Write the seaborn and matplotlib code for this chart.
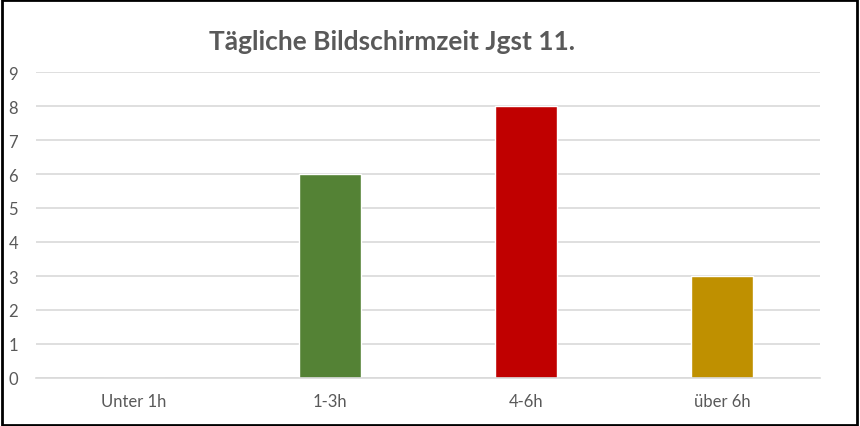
import matplotlib
matplotlib.use("Agg")
import matplotlib.pyplot as plt
import seaborn as sns
import pandas as pd
from matplotlib.patches import Rectangle

categories = ["Unter 1h", "1-3h", "4-6h", "über 6h"]
values = [0, 6, 8, 3]
colors = ["#4472C4", "#548235", "#C00000", "#BF9000"]
title = "Tägliche Bildschirmzeit Jgst 11."

sns.set_theme(style="white")
plt.rcParams["font.family"] = ["Lato", "DejaVu Sans"]

df = pd.DataFrame({"cat": categories, "val": values})

fig = plt.figure(figsize=(8.6, 4.27), dpi=100)
ax = fig.add_axes([36/860, 1-379/427, (820-36)/860, (379-73)/427])
sns.barplot(data=df, x="cat", y="val", hue="cat", palette=colors, legend=False,
            width=0.32, ax=ax, saturation=1)
ax.set_ylim(0, 9)
ax.set_xlim(-0.5, 3.5)
ax.set_yticks(range(0, 10))
ax.yaxis.grid(True, color="#D9D9D9", linewidth=1.2)
ax.set_axisbelow(True)
for s in ["top", "right", "left"]:
    ax.spines[s].set_visible(False)
ax.spines["bottom"].set_color("#D9D9D9")
ax.spines["bottom"].set_linewidth(1.2)
ax.set_xlabel("")
ax.set_ylabel("")
ax.tick_params(axis="both", length=0, labelsize=12, colors="#595959")
ax.tick_params(axis="y", pad=13)
ax.tick_params(axis="x", pad=11)

fig.text(392/860, 1-42/427, title, ha="center", va="center", fontsize=19,
         fontweight="bold", color="#595959")
fig.patches.append(Rectangle((0.002, 0.003), 0.995, 0.994, transform=fig.transFigure,
                             fill=False, edgecolor="black", linewidth=2))
fig.savefig("out.png", dpi=100)
